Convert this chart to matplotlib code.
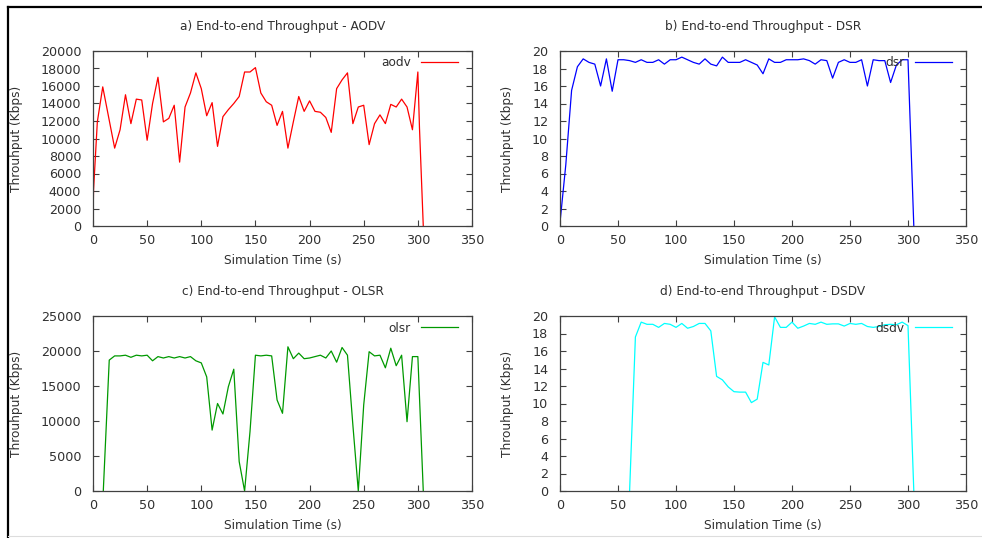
import matplotlib
matplotlib.use("Agg")
import matplotlib.pyplot as plt
from matplotlib.lines import Line2D
import numpy as np

# ---------------- data ----------------
t_aodv = [0, 0.5, 4, 9, 20, 25, 30, 35, 40, 45, 50, 55, 60, 65, 70, 75, 80, 85, 90, 95,
          100, 105, 110, 115, 120, 125, 130, 135, 140, 145, 150, 155, 160, 165, 170, 175,
          180, 185, 190, 195, 200, 205, 210, 215, 220, 225, 230, 235, 240, 245, 250, 255,
          260, 265, 270, 275, 280, 285, 290, 295, 300, 301.5, 305]
v_aodv = [700, 4100, 11900, 15900, 8900, 11000, 15000, 11700, 14500, 14400,
          9800, 14000, 17000, 11900, 12300, 13800, 7300, 13600, 15200, 17500,
          15700, 12600, 14100, 9100, 12500, 13300, 14000, 14800, 17600, 17600,
          18100, 15200, 14200, 13800, 11500, 13100, 8900, 11900, 14800, 13100,
          14300, 13100, 13000, 12400, 10700, 15700, 16700, 17500, 11700, 13600,
          13800, 9300, 11700, 12700, 11700, 13900, 13600, 14500, 13600, 11000,
          17600, 11200, 0]

t_dsr = list(range(0, 310, 5))
v_dsr = [0.4, 7.0, 15.5, 18.2, 19.1, 18.7, 18.5, 16.0, 19.1, 15.4,
         19.0, 19.0, 18.9, 18.7, 19.0, 18.7, 18.7, 19.0, 18.5, 19.0,
         19.0, 19.3, 19.0, 18.7, 18.5, 19.1, 18.5, 18.3, 19.3, 18.7,
         18.7, 18.7, 19.0, 18.7, 18.4, 17.4, 19.1, 18.7, 18.7, 19.0,
         19.0, 19.0, 19.1, 18.9, 18.5, 19.0, 18.9, 16.9, 18.7, 19.0,
         18.7, 18.7, 19.0, 16.0, 19.0, 18.9, 18.9, 16.4, 18.4, 19.0,
         19.0, 0]

t_olsr = [9.5] + list(range(15, 310, 5))
v_olsr = [0, 18700, 19300, 19300, 19400, 19100, 19400, 19300, 19400, 18600,
          19200, 19000, 19200, 19000, 19200, 19000, 19200, 18600, 18300, 16300,
          8700, 12500, 11000, 14900, 17400, 4200, 0, 8500, 19400, 19300,
          19400, 19300, 13000, 11100, 20600, 18900, 19700, 18900, 19000, 19200,
          19400, 19000, 20000, 18400, 20500, 19400, 9400, 0, 12300, 19900,
          19300, 19400, 17600, 20400, 17900, 19400, 9900, 19200, 19200, 0]

t_dsdv = list(range(60, 310, 5))
v_dsdv = [0, 17.6, 19.3, 19.05, 19.05, 18.7, 19.15, 19.05, 18.7, 19.15,
          18.6, 18.8, 19.15, 19.15, 18.3, 13.1, 12.7, 11.9, 11.35, 11.3,
          11.3, 10.1, 10.5, 14.7, 14.4, 19.9, 18.7, 18.7, 19.3, 18.6,
          18.85, 19.15, 19.05, 19.3, 19.05, 19.1, 19.1, 18.85, 19.15, 19.05,
          19.15, 18.8, 18.7, 18.8, 19.0, 19.05, 19.0, 19.3, 18.9, 0]

titles = ["a) End-to-end Throughput - AODV", "b) End-to-end Throughput - DSR",
          "c) End-to-end Throughput - OLSR", "d) End-to-end Throughput - DSDV"]
labels = ["aodv", "dsr", "olsr", "dsdv"]
colors = ["#ff0000", "#0000ff", "#009900", "#00ffff"]
yticks_list = [np.arange(0, 20001, 2000), np.arange(0, 21, 2),
               np.arange(0, 25001, 5000), np.arange(0, 21, 2)]
xticks = np.arange(0, 351, 50)
xlabel = "Simulation Time (s)"
ylabel = "Throuhput (Kbps)"

series = [(t_aodv, v_aodv), (t_dsr, v_dsr), (t_olsr, v_olsr), (t_dsdv, v_dsdv)]

# ---------------- layout ----------------
W, H = 982, 538
fig = plt.figure(figsize=(W / 100, H / 100), dpi=100)
plt.rcParams['font.family'] = ['DejaVu Sans']
txt = '#303030'
spc = '#404040'

boxes = [(93, 51, 472, 226), (560, 51, 966, 226),
         (93, 316, 472, 491), (560, 316, 966, 491)]

for i, (x0, y0, x1, y1) in enumerate(boxes):
    ax = fig.add_axes([x0 / W, 1 - y1 / H, (x1 - x0) / W, (y1 - y0) / H])
    t, v = series[i]
    ax.plot(t, v, color=colors[i], lw=0.9, label=labels[i])
    ax.set_xlim(0, 350)
    yt = yticks_list[i]
    ax.set_ylim(0, yt[-1])
    ax.set_xticks(xticks)
    ax.set_yticks(yt)
    ax.tick_params(direction='in', top=True, right=True, length=4, width=0.8,
                   colors=spc, labelcolor=txt, labelsize=9.2)
    ax.tick_params(axis='y', pad=8.5)
    ax.tick_params(axis='x', pad=6)
    for s in ax.spines.values():
        s.set_color(spc)
        s.set_linewidth(0.9)
    ax.set_title(titles[i], fontsize=8.7, color=txt, pad=15)
    ax.set_xlabel(xlabel, fontsize=8.7, color=txt, labelpad=5)
    ax.set_ylabel(ylabel, fontsize=8.7, color=txt, labelpad=13)
    leg = ax.legend(loc='center right',
                    bbox_to_anchor=(1 - 14 / (x1 - x0), 1 - 12 / (y1 - y0)),
                    frameon=False, markerfirst=False, handlelength=3.1,
                    handletextpad=0.8, borderpad=0, borderaxespad=0,
                    fontsize=8.7, labelcolor=txt)

# outer frame
fig.add_artist(Line2D([8 / W, 8 / W], [0, 1 - 7 / H], color='black', lw=1.6,
                      transform=fig.transFigure))
fig.add_artist(Line2D([8 / W, 1], [1 - 7 / H, 1 - 7 / H], color='black', lw=1.6,
                      transform=fig.transFigure))
fig.add_artist(Line2D([8 / W, 1], [2 / H, 2 / H], color='#dddddd', lw=0.8,
                      transform=fig.transFigure))

fig.savefig("out.png", dpi=100)
